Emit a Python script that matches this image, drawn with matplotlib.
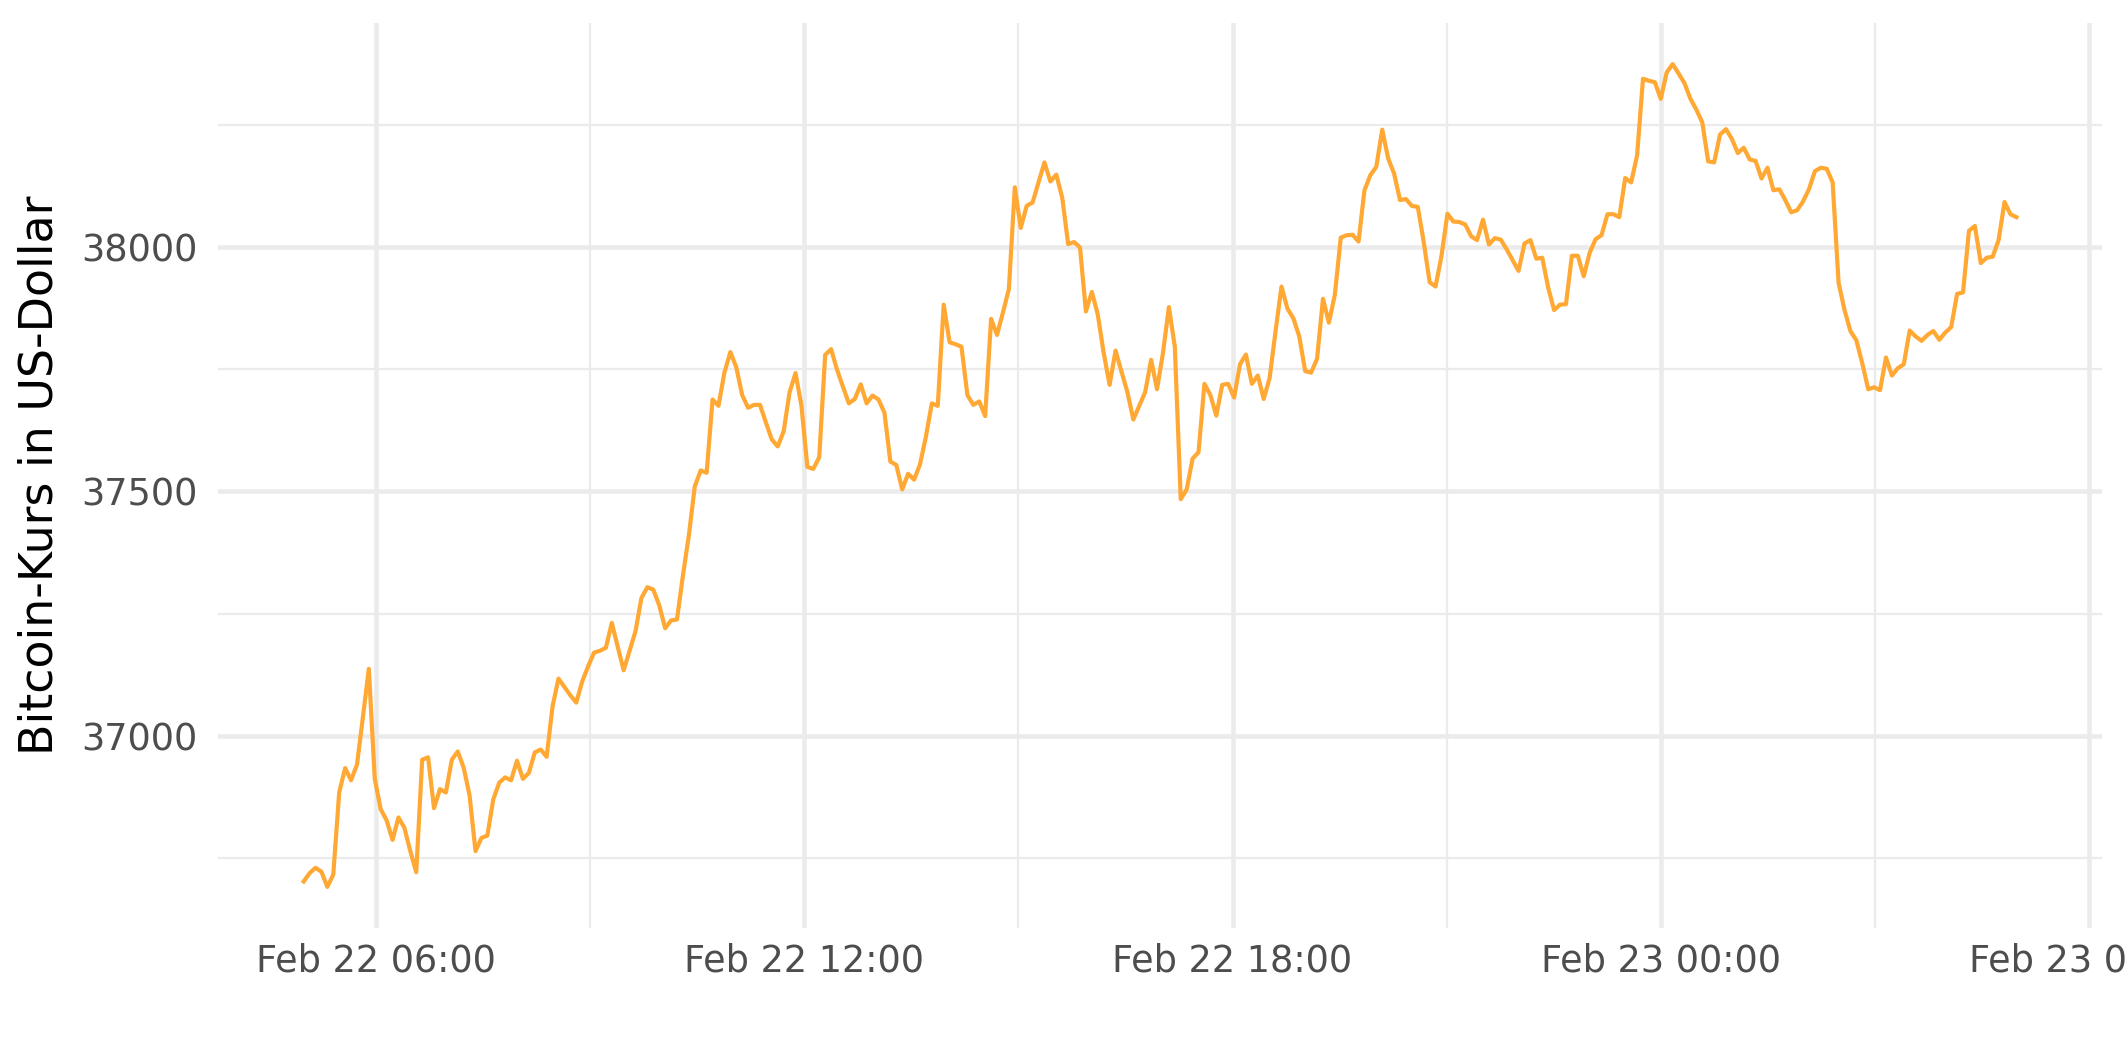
import matplotlib
matplotlib.use("Agg")
import matplotlib.pyplot as plt
import matplotlib.dates as mdates
from matplotlib.ticker import MultipleLocator
import pandas as pd

plt.rcParams['font.family'] = ['DejaVu Sans']

# ---- data ----
time_start = "2022-02-22 04:59"
time_end = "2022-02-23 04:59"
n_points = 290

price_usd = [
    36702, 36719, 36730, 36722, 36691, 36716, 36884, 36934, 36909, 36941,
    37038, 37137, 36912, 36850, 36827, 36787, 36833, 36812, 36764, 36721,
    36951, 36956, 36852, 36891, 36884, 36951, 36968, 36935, 36878, 36764,
    36791, 36796, 36870, 36904, 36915, 36909, 36949, 36912, 36924, 36966,
    36972, 36957, 37060, 37117, 37100, 37083, 37068, 37111, 37142, 37170,
    37174, 37180, 37231, 37182, 37134, 37174, 37214, 37282, 37304, 37299,
    37267, 37220, 37236, 37238, 37328, 37410, 37510, 37543, 37538, 37688,
    37675, 37743, 37785, 37754, 37697, 37671, 37677, 37677, 37641, 37606,
    37592, 37623, 37703, 37742, 37675, 37550, 37546, 37570, 37779, 37791,
    37749, 37714, 37680, 37689, 37719, 37680, 37696, 37688, 37661, 37561,
    37554, 37504, 37536, 37524, 37555, 37612, 37680, 37675, 37882, 37805,
    37801, 37796, 37697, 37677, 37684, 37654, 37853, 37820, 37866, 37914,
    38122, 38039, 38084, 38091, 38132, 38173, 38134, 38148, 38101, 38006,
    38010, 37999, 37868, 37908, 37862, 37783, 37718, 37788, 37745, 37703,
    37647, 37675, 37703, 37769, 37709, 37783, 37877, 37796, 37484, 37504,
    37567, 37580, 37720, 37697, 37655, 37718, 37720, 37692, 37760, 37780,
    37720, 37737, 37689, 37732, 37828, 37919, 37874, 37854, 37817, 37746,
    37743, 37771, 37894, 37845, 37902, 38019, 38024, 38025, 38011, 38116,
    38147, 38164, 38240, 38181, 38150, 38096, 38098, 38084, 38082, 38010,
    37928, 37919, 37982, 38068, 38052, 38051, 38046, 38022, 38014, 38056,
    38005, 38018, 38015, 37995, 37973, 37951, 38007, 38014, 37976, 37978,
    37917, 37871, 37882, 37883, 37982, 37982, 37940, 37988, 38016, 38024,
    38067, 38067, 38061, 38141, 38132, 38187, 38344, 38340, 38337, 38303,
    38357, 38374, 38355, 38335, 38303, 38281, 38255, 38175, 38173, 38230,
    38241, 38221, 38192, 38203, 38179, 38176, 38140, 38162, 38116, 38118,
    38096, 38071, 38075, 38093, 38118, 38155, 38162, 38160, 38132, 37927,
    37871, 37828, 37809, 37762, 37709, 37713, 37707, 37774, 37737, 37752,
    37760, 37829, 37817, 37808, 37820, 37828, 37810, 37825, 37836, 37904,
    37907, 38033, 38043, 37967, 37978, 37980, 38014, 38092, 38067, 38061,
]

y_label = "Bitcoin-Kurs in US-Dollar"

times = pd.date_range(time_start, time_end, periods=n_points)

# ---- figure ----
W, H = 2125, 1062
fig = plt.figure(figsize=(W / 300, H / 300), dpi=300)
ax = fig.add_axes([218 / W, 1 - 928 / H, (2102 - 218) / W, (928 - 23) / H])

ax.plot(times, price_usd, color="#FFA833", lw=1.0, solid_joinstyle="round")
ax.margins(x=0.05, y=0.05)

ax.xaxis.set_major_locator(mdates.HourLocator(byhour=[0, 6, 12, 18]))
ax.xaxis.set_minor_locator(mdates.HourLocator(byhour=[3, 9, 15, 21]))
ax.xaxis.set_major_formatter(mdates.DateFormatter("%b %d %H:%M"))
ax.yaxis.set_major_locator(MultipleLocator(500))
ax.yaxis.set_minor_locator(MultipleLocator(250))

ax.grid(which="major", color="#EBEBEB", lw=1.1)
ax.grid(which="minor", color="#EBEBEB", lw=0.55)
ax.set_axisbelow(True)
for s in ax.spines.values():
    s.set_visible(False)

ax.tick_params(which="both", length=0)
ax.tick_params(axis="x", which="major", labelsize=8.8, labelcolor="#4D4D4D", pad=3.5)
ax.tick_params(axis="y", which="major", labelsize=8.8, labelcolor="#4D4D4D", pad=5)

fig.text(40 / W, 1 - 475 / H, y_label, rotation=90, ha="center", va="center",
         fontsize=11, color="black")

fig.savefig("out.png", dpi=300)
